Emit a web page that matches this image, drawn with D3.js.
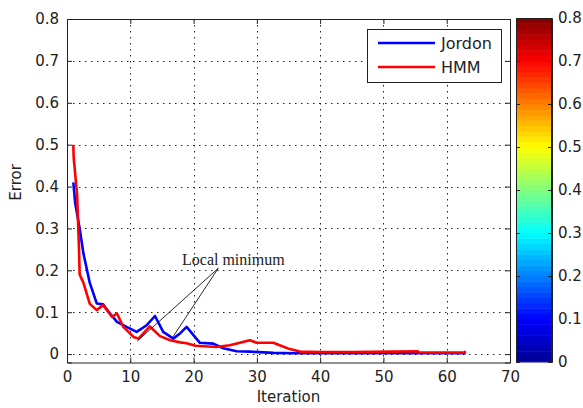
<!DOCTYPE html>
<html>
<head>
<meta charset="utf-8">
<script src="https://cdn.jsdelivr.net/npm/d3@7"></script>
<style>
body { margin:0; background:#fff; }
svg text { font-family: "DejaVu Sans", sans-serif; }
</style>
</head>
<body>
<div id="chart"></div>
<script>
// Jordon network error
let jordonIter  = [1, 1.3, 2, 2.6, 3.6, 4.7, 5.7, 6.8, 7.9, 9.4, 11, 12.6, 13.9, 15.2, 16.8, 17.9, 18.9, 21, 23.1, 24.7, 26.8, 28.9, 32.6, 36, 40, 45, 50, 55, 60, 63];
let jordonError = [0.41, 0.36, 0.30, 0.24, 0.17, 0.121, 0.119, 0.097, 0.077, 0.065, 0.053, 0.069, 0.091, 0.053, 0.037, 0.05, 0.065, 0.027, 0.025, 0.014, 0.007, 0.006, 0.003, 0.002, 0.002, 0.002, 0.002, 0.002, 0.002, 0.002];

// HMM error
let hmmIter  = [1, 1.05, 1.6, 1.9, 2, 2.6, 3.6, 4.7, 5.7, 7.1, 7.9, 8.9, 10.5, 11.3, 13.1, 14.7, 16.3, 17.9, 18.9, 20.3, 23.6, 25.7, 27.3, 28.9, 30, 32.6, 33.6, 35.2, 36.8, 40, 45, 51.5, 55.4, 55.6, 62.8, 63];
let hmmError = [0.5, 0.47, 0.38, 0.25, 0.19, 0.17, 0.12, 0.105, 0.117, 0.089, 0.097, 0.065, 0.041, 0.037, 0.066, 0.043, 0.033, 0.028, 0.026, 0.02, 0.017, 0.021, 0.027, 0.033, 0.027, 0.027, 0.021, 0.012, 0.006, 0.005, 0.005, 0.006, 0.007, 0.004, 0.004, 0.007];

let xTicks = [0, 10, 20, 30, 40, 50, 60, 70];
let yTicks = [0, 0.1, 0.2, 0.3, 0.4, 0.5, 0.6, 0.7, 0.8];
let cbTicks = [0, 0.1, 0.2, 0.3, 0.4, 0.5, 0.6, 0.7, 0.8];

// annotation: text anchor and the two local minima it points at
let noteLabel = "Local minimum";
let noteAt = [23.9, 0.205];
let noteTargets = [[11.1, 0.031], [16.6, 0.038]];

let width = 583, height = 408;
let svg = d3.select("#chart").append("svg")
  .attr("width", width).attr("height", height);

let x = d3.scaleLinear().domain([0, 70]).range([67, 510]);
let y = d3.scaleLinear().domain([-0.02, 0.8]).range([362.5, 19]);

let axisColor = "#222";

// grid
let grid = svg.append("g");
grid.selectAll(".gx").data(xTicks.slice(1, -1)).enter().append("line")
  .attr("x1", d => Math.round(x(d)) + 0.5).attr("x2", d => Math.round(x(d)) + 0.5)
  .attr("y1", y.range()[0]).attr("y2", y.range()[1])
  .attr("stroke", "#222").attr("stroke-width", 1).attr("stroke-dasharray", "1.5,4.5");
grid.selectAll(".gy").data(yTicks).enter().append("line")
  .attr("x1", x.range()[0]).attr("x2", x.range()[1])
  .attr("y1", d => Math.round(y(d)) + 0.5).attr("y2", d => Math.round(y(d)) + 0.5)
  .attr("stroke", "#222").attr("stroke-width", 1).attr("stroke-dasharray", "1.5,4.5");

// lines
let line = d3.line().x(d => x(d[0])).y(d => y(d[1]));
svg.append("path")
  .datum(jordonIter.map((d, i) => [d, jordonError[i]]))
  .attr("d", line).attr("fill", "none").attr("stroke", "#0000ff").attr("stroke-width", 2.6)
  .attr("stroke-linejoin", "round");
svg.append("path")
  .datum(hmmIter.map((d, i) => [d, hmmError[i]]))
  .attr("d", line).attr("fill", "none").attr("stroke", "#ff0000").attr("stroke-width", 2.6)
  .attr("stroke-linejoin", "round");

// axes (box with inward ticks)
let fmt = d3.format("");
svg.append("g").attr("transform", "translate(0," + y.range()[0] + ")")
  .call(d3.axisBottom(x).tickValues(xTicks).tickSize(-5).tickPadding(9).tickFormat(fmt));
svg.append("g").attr("transform", "translate(0," + y.range()[1] + ")")
  .call(d3.axisTop(x).tickValues(xTicks).tickSize(-5).tickFormat(""));
svg.append("g").attr("transform", "translate(" + x.range()[0] + ",0)")
  .call(d3.axisLeft(y).tickValues(yTicks).tickSize(-5).tickPadding(8).tickFormat(fmt));
svg.append("g").attr("transform", "translate(" + x.range()[1] + ",0)")
  .call(d3.axisRight(y).tickValues(yTicks).tickSize(-5).tickFormat(""));

// axis titles
svg.append("text").attr("x", (x.range()[0] + x.range()[1]) / 2).attr("y", 402)
  .attr("text-anchor", "middle").attr("font-size", 15).attr("fill", "#222").text("Iteration");
svg.append("text").attr("transform", "translate(21," + y(0.41) + ") rotate(-90)")
  .attr("text-anchor", "middle").attr("font-size", 15).attr("fill", "#222").text("Error");

// annotation
svg.selectAll(".note").data(noteTargets).enter().append("line")
  .attr("x1", x(noteAt[0])).attr("y1", y(noteAt[1]))
  .attr("x2", d => x(d[0])).attr("y2", d => y(d[1]))
  .attr("stroke", "#111").attr("stroke-width", 0.9);
svg.append("text").attr("x", 182).attr("y", 265)
  .style("font-family", "'Liberation Serif', 'Times New Roman', serif")
  .attr("font-size", 16).attr("fill", "#222").text(noteLabel);

// legend
let legend = svg.append("g");
legend.append("rect").attr("x", 367.5).attr("y", 29.5).attr("width", 134).attr("height", 53)
  .attr("fill", "#fff").attr("stroke", axisColor);
let series = [{name: "Jordon", color: "#0000ff"}, {name: "HMM", color: "#ff0000"}];
let keys = legend.selectAll(".key").data(series).enter().append("g")
  .attr("transform", (d, i) => "translate(0," + (43 + i * 24) + ")");
keys.append("line").attr("x1", 378).attr("x2", 435).attr("y1", 0).attr("y2", 0)
  .attr("stroke", d => d.color).attr("stroke-width", 2.6);
keys.append("text").attr("x", 441).attr("y", 6).attr("font-size", 16).attr("fill", "#222")
  .text(d => d.name);

// colorbar (jet)
let jet = d3.scaleLinear()
  .domain([0, 0.125, 0.375, 0.625, 0.875, 1])
  .range(["#00008f", "#0000ff", "#00ffff", "#ffff00", "#ff0000", "#800000"]);
let cb = d3.scaleLinear().domain([0, 0.8]).range([362, 18]);
let levels = d3.range(64);
let cbx0 = 516, cbx1 = 552;
svg.append("g").selectAll("rect").data(levels).enter().append("rect")
  .attr("x", cbx0).attr("width", cbx1 - cbx0)
  .attr("y", d => cb((d + 1) / 64 * 0.8))
  .attr("height", d => cb(d / 64 * 0.8) - cb((d + 1) / 64 * 0.8) + 0.5)
  .attr("fill", d => jet((d + 0.5) / 64));
svg.append("g").attr("transform", "translate(" + cbx1 + ",0)")
  .call(d3.axisRight(cb).tickValues(cbTicks).tickSize(-4).tickPadding(6).tickFormat(fmt));
svg.append("g").attr("transform", "translate(" + cbx0 + ",0)")
  .call(d3.axisLeft(cb).tickValues(cbTicks).tickSize(-4).tickFormat(""));
svg.append("rect").attr("x", cbx0 + 0.5).attr("y", 18.5).attr("width", cbx1 - cbx0 - 1).attr("height", 343)
  .attr("fill", "none").attr("stroke", axisColor);
svg.selectAll(".domain, .tick line").attr("stroke", axisColor);
svg.selectAll(".tick text").attr("font-size", 15).attr("fill", "#222");
</script>
</body>
</html>
